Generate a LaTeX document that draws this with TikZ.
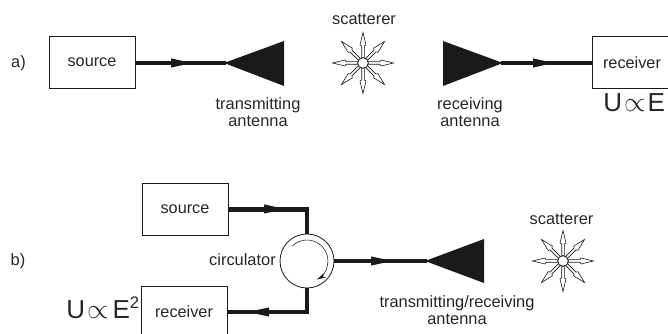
\documentclass[tikz,border=0pt]{standalone}
\usepackage{fontspec}
\setmainfont{Liberation Sans}
\usetikzlibrary{arrows.meta}
\definecolor{ink}{HTML}{1A1A1A}
\definecolor{txt}{HTML}{262626}
\newcommand{\supertwo}{\raisebox{7.5pt}{\fontsize{12.5}{14}\selectfont 2}}
\tikzset{
  x=0.75pt,y=-0.75pt,
  box/.style={draw=ink,line width=0.7pt,inner sep=0pt,font=\fontsize{12.2}{14}\selectfont,text=txt},
  lbl/.style={inner sep=0pt,align=center,font=\fontsize{12.3}{12.7}\selectfont,text=txt},
  law/.style={inner sep=0pt,font=\fontsize{19.5}{22}\selectfont,text=txt},
  feed/.style={draw=ink,line width=3.7pt},
  dish/.style={fill=ink},
  head/.pic={\fill[ink] (0,-4.6) -- (21,0) -- (0,4.6) -- cycle;},
  ray/.pic={\filldraw[draw=ink,fill=white,line width=0.45pt,line join=miter]
     (5,-1.3) -- (17,-1.3) -- (18,-3) -- (30.5,0) -- (18,3) -- (17,1.3) -- (5,1.3) -- cycle;},
  hub/.style={circle,draw=ink,fill=white,line width=0.6pt,minimum size=8pt,inner sep=0pt},
  star/.pic={\foreach \a in {0,45,...,315}{\pic[rotate=\a] {ray};}}
}
\begin{document}
\begin{tikzpicture}
\useasboundingbox (0,0) rectangle (668,334);
\clip (0,0) rectangle (668,334);
% a)
\node[lbl] (la) at (18.5,63) {a)};
\node[box,minimum width=64.5pt,minimum height=38.5pt] (srca) at (92,62.5) {source};
\node[box,minimum width=60pt,minimum height=38.5pt] (rxa) at (632,62.5) {receiver};
\coordinate (apexa) at (226,63);
\coordinate (apexr) at (501,63);
\draw[feed] (srca.east |- apexa) -- (apexa);
\pic at (171,63) {head};
\fill[dish] (224,63) -- (284,41) -- (284,86) -- cycle;
\fill[dish] (443,41) -- (503,63) -- (443,86) -- cycle;
\draw[feed] (apexr) -- (rxa.west |- apexr);
\pic at (533,63) {head};
\pic at (363,63) {star};
\node[hub] (sca) at (363,63) {};
\node[lbl] (tsca) at (364,19) {scatterer};
\node[lbl] (ta) at (258,112) {transmitting\\antenna};
\node[lbl] (ra) at (470,112) {receiving\\antenna};
\node[law,anchor=base west] (ua) at (603,112) {U\hspace{1.5pt}$\propto$\hspace{1.5pt}E};
% b)
\node[lbl] (lb) at (18,261) {b)};
\node[box,minimum width=64.5pt,minimum height=38.5pt] (srcb) at (185,209.5) {source};
\node[box,minimum width=64.5pt,minimum height=39pt] (rxb) at (184,312) {receiver};
\node[circle,draw=ink,line width=0.6pt,fill=white,minimum size=40.5pt,inner sep=0pt] (circ) at (307,261) {};
\draw[feed,line join=miter] (srcb.east) -- (circ.north |- srcb.east) -- (circ.north);
\draw[feed,line join=miter] (circ.south) -- (circ.south |- rxb.east) -- (rxb.east);
\pic at (264,209) {head};
\pic[rotate=180] at (269,312) {head};
\draw[ink,line width=0.4pt,-{Stealth[length=7pt,width=3.5pt]}] (circ.center) ++(-135:21) arc[start angle=-135,end angle=62,radius=21];
\coordinate (apexb) at (427,261);
\draw[feed] (circ.east) -- (apexb);
\pic at (371,261) {head};
\fill[dish] (425,261) -- (484,239) -- (484,283) -- cycle;
\pic at (563,261) {star};
\node[hub] (scb) at (563,261) {};
\node[lbl] (tscb) at (561.5,219) {scatterer};
\node[lbl,anchor=east] (tc) at (276,260) {circulator};
\node[lbl] (tb) at (457,310.5) {transmitting/receiving\\antenna};
\node[law,anchor=base west] (ub) at (66,319) {U\hspace{1.5pt}$\propto$\hspace{3pt}E\supertwo};
\end{tikzpicture}
\end{document}
